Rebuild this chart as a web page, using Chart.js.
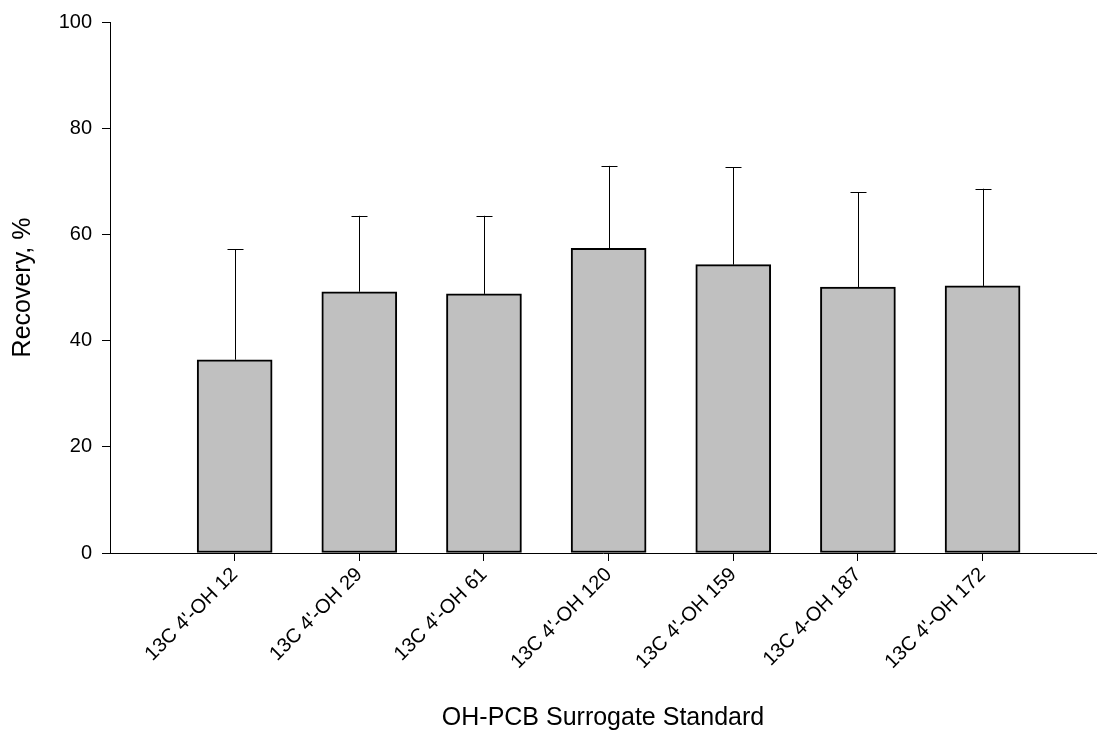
<!DOCTYPE html>
<html>
<head>
<meta charset="utf-8">
<title>OH-PCB Surrogate Recovery</title>
<script src="https://cdn.jsdelivr.net/npm/chart.js@4.4.1/dist/chart.umd.min.js"></script>
<style>
    html, body { margin: 0; padding: 0; background: #fff; }
    canvas { display: block; }
</style>
</head>
<body>
<canvas id="recoveryChart" width="1097" height="734"></canvas>
<script>
// Surrogate standards on the x axis
const categories = ['13C 4\'-OH 12', '13C 4\'-OH 29', '13C 4\'-OH 61', '13C 4\'-OH 120',
                    '13C 4\'-OH 159', '13C 4-OH 187', '13C 4\'-OH 172'];
// Mean recovery (%) and upper error (SD)
const recovery = [36.4, 49.2, 48.8, 57.4, 54.3, 50.1, 50.3];
const recoveryErr = [20.8, 14.3, 14.7, 15.5, 18.3, 17.8, 18.3];
// Y tick range
const yTicks = [0, 20, 40, 60, 80, 100];

const FONT = '"Liberation Sans", Arial, Helvetica, sans-serif';

// Draw the upper error bars on top of each bar
const errorBars = {
    id: 'errorBars',
    afterDatasetsDraw: function(chart) {
        const ctx = chart.ctx;
        const yScale = chart.scales.y;
        const meta = chart.getDatasetMeta(0);
        ctx.save();
        ctx.strokeStyle = '#000';
        ctx.lineWidth = 1;
        meta.data.forEach((bar, i) => {
            const x = Math.round(bar.x) + 0.5;
            const yTop = yScale.getPixelForValue(recovery[i] + recoveryErr[i]);
            const yBar = yScale.getPixelForValue(recovery[i]);
            ctx.beginPath();
            ctx.moveTo(x, yBar);
            ctx.lineTo(x, yTop);
            ctx.moveTo(x - 8, Math.round(yTop) + 0.5);
            ctx.lineTo(x + 8, Math.round(yTop) + 0.5);
            ctx.stroke();
        });
        ctx.restore();
    }
};

const ctx = document.getElementById('recoveryChart').getContext('2d');
const chart = new Chart(ctx, {
    type: 'bar',
    data: {
        datasets: [{
            data: categories.map((c, i) => ({ x: i + 1, y: recovery[i] })),
            backgroundColor: '#c0c0c0',
            borderColor: '#000',
            borderWidth: 2,
            borderSkipped: false,
            barThickness: 75
        }]
    },
    options: {
        responsive: false,
        animation: false,
        layout: {
            padding: { top: 22, right: 1, left: 0, bottom: 0 }
        },
        scales: {
            x: {
                type: 'linear',
                offset: false,
                min: 0,
                max: 7.91,
                afterBuildTicks: function(scale) {
                    scale.ticks = categories.map((c, i) => ({ value: i + 1 }));
                },
                afterFit: function(scale) {
                    scale.height = 181;
                },
                ticks: {
                    autoSkip: false,
                    minRotation: 45,
                    maxRotation: 45,
                    padding: 2,
                    color: '#000',
                    font: { family: FONT, size: 20 },
                    callback: function(value) {
                        return categories[value - 1];
                    }
                },
                grid: {
                    offset: false,
                    drawOnChartArea: false,
                    tickLength: 8,
                    color: '#000'
                },
                border: { color: '#000', width: 1 },
                title: {
                    display: true,
                    text: 'OH-PCB Surrogate Standard',
                    color: '#000',
                    font: { family: FONT, size: 25 },
                    padding: { top: 0, bottom: 1 }
                }
            },
            y: {
                min: 0,
                max: 100,
                afterBuildTicks: function(scale) {
                    scale.ticks = yTicks.map(v => ({ value: v }));
                },
                afterFit: function(scale) {
                    scale.width = 110;
                },
                ticks: {
                    padding: 10,
                    color: '#000',
                    font: { family: FONT, size: 20 }
                },
                grid: {
                    drawOnChartArea: false,
                    tickLength: 8,
                    color: '#000'
                },
                border: { color: '#000', width: 1 },
                title: {
                    display: true,
                    text: 'Recovery, %',
                    color: '#000',
                    font: { family: FONT, size: 25 },
                    padding: { top: 8, bottom: 0 }
                }
            }
        },
        plugins: {
            legend: { display: false },
            tooltip: { enabled: false }
        }
    },
    plugins: [errorBars]
});
</script>
</body>
</html>
